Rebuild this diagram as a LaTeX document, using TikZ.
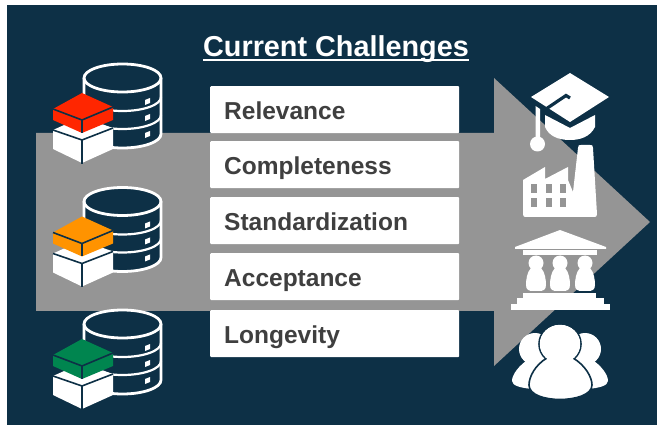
\documentclass[tikz,border=0pt]{standalone}
\usepackage{fontspec}
\setmainfont{Liberation Sans}
\definecolor{navy}{HTML}{0D3046}
\definecolor{arrowgray}{HTML}{959595}
\definecolor{labelgray}{HTML}{3F3F3F}
\definecolor{cubered}{HTML}{FF2600}
\definecolor{cubeorange}{HTML}{FF9300}
\definecolor{cubegreen}{HTML}{00854F}
\tikzset{
  x=1pt,y=-1pt,
  labelbox/.style={fill=white,rounded corners=1pt,inner sep=0pt,anchor=north west,
     text=labelgray,font=\bfseries\fontsize{24.5}{28}\selectfont,align=left,text width=249pt,
     text height=33pt,text depth=14pt,execute at begin node={\hspace*{14pt}}},
  iconfill/.style={fill=white,draw=none},
  hole/.style={fill=arrowgray,draw=none},
  dbline/.style={draw=white,line width=2.8pt},
  cubeline/.style={draw=navy,line width=1.6pt},
  pics/database/.style={code={
    \fill[navy] (84,78) -- (84,134) arc[start angle=180,end angle=0,x radius=38.5,y radius=14] -- (161,78) arc[start angle=0,end angle=-180,x radius=38.5,y radius=14];
    \draw[dbline] (84,78) -- (84,134) arc[start angle=180,end angle=0,x radius=38.5,y radius=14] -- (161,78);
    \draw[dbline] (122.5,78) ellipse[x radius=38.5,y radius=14];
    \draw[dbline,line width=2.2pt] (84,97) arc[start angle=180,end angle=0,x radius=38.5,y radius=14];
    \draw[dbline,line width=2.2pt] (84,115) arc[start angle=180,end angle=0,x radius=38.5,y radius=14];
    \foreach \yy in {101,117,134}
      \fill[white] (145,\yy-1) -- (150,\yy-3) -- (150,\yy+2) -- (145,\yy+4) -- cycle;
    \fill[white] (53,130) -- (82,117) -- (113,128) -- (113,149) -- (82,163) -- (53,149) -- cycle;
    \draw[cubeline] (53,130) -- (82,140) -- (113,128);
    \draw[cubeline] (82,140) -- (82,164);
    \fill[#1] (53,109) -- (82,93) -- (113,107) -- (113,120) -- (82,133) -- (53,120) -- cycle;
    \draw[cubeline] (53,109) -- (82,120) -- (113,107);
    \draw[cubeline] (82,120) -- (82,133);
  }}
}
\begin{document}
\begin{tikzpicture}
\useasboundingbox (0,0) rectangle (657,425);
\fill[white] (0,0) rectangle (657,425);
\fill[navy] (7,5) rectangle (657,425);
% big arrow
\fill[arrowgray] (36,133) -- (494,133) -- (494,78) -- (650,222) -- (494,366) -- (494,311) -- (36,311) -- cycle;
% title
\node[anchor=base,text=white,font=\bfseries\fontsize{28.8}{32}\selectfont,inner sep=0pt] (title) at (336,57) {Current Challenges};
\draw[white,line width=2pt] (203,60) -- (469,60);
% labels
\node[labelbox] (b1) at (210,86) {Relevance};
\node[labelbox] (b2) at (210,141) {Completeness};
\node[labelbox] (b3) at (210,197) {Standardization};
\node[labelbox] (b4) at (210,253) {Acceptance};
\node[labelbox] (b5) at (210,310) {Longevity};
% databases
\pic at (0,0) {database=cubered};
\pic at (0,123.5) {database=cubeorange};
\pic at (0,246) {database=cubegreen};
% graduation cap
\fill[iconfill] (545,115) -- (570,128) -- (595,115) -- (595,127)
   .. controls (590,137) and (580,140) .. (570,140) .. controls (558,140) and (549,136) .. (545,127) -- cycle;
\fill[iconfill] (570,73) -- (609,97) -- (570,122) -- (531,97) -- cycle;
\draw[navy,line width=3.2pt] (546,109) -- (566,95.5) -- (570,98);
\fill[iconfill] (535.5,106) -- (540,109) -- (540,140) -- (535.5,140) -- cycle;
\fill[iconfill] (537.5,144) circle[radius=7.5];
% factory
\fill[iconfill] (523,180) -- (545,167) -- (545,179) -- (568,167) -- (568,180) -- (573,192) -- (578,148)
   .. controls (578,145) and (579,145) .. (581,145) -- (590,145) .. controls (592,145) and (593,145) .. (593,148)
   -- (597,214) .. controls (597,216) and (596,217) .. (595,217) -- (525,217) .. controls (524,217) and (523,216) .. (523,214) -- cycle;
\foreach \xx in {531,546,560}
  \foreach \yy in {184,198}
    \fill[hole] (\xx,\yy) rectangle (\xx+6,\yy+9);
% bank
\fill[iconfill] (560,230) -- (606,247) -- (606,249) -- (515,249) -- (515,247) -- cycle;
\fill[iconfill] (523,250.5) rectangle (597,255);
\foreach \xx in {536,560,585}{
  \fill[iconfill] (\xx,263) circle[radius=7.5];
  \fill[iconfill] (\xx-5,268) .. controls (\xx-9,272) and (\xx-10,280) .. (\xx-10,285)
     .. controls (\xx-10,290) and (\xx-7,291) .. (\xx-3,291) -- (\xx+3,291)
     .. controls (\xx+7,291) and (\xx+10,290) .. (\xx+10,285)
     .. controls (\xx+10,280) and (\xx+9,272) .. (\xx+5,268) -- cycle;
}
\fill[iconfill] (523,293) rectangle (596,299);
\fill[iconfill] (517,298) rectangle (604,305);
\fill[iconfill] (511,304) rectangle (610,310);
% people
\foreach \sgn in {-1,1}{
  \fill[iconfill] (560+\sgn*25,349) circle[radius=16];
  \fill[iconfill] (560+\sgn*30,358) .. controls (560+\sgn*42,366) and (560+\sgn*48,375) .. (560+\sgn*48,381)
     .. controls (560+\sgn*48,386) and (560+\sgn*38,388) .. (560+\sgn*28,389) -- (560+\sgn*10,360) -- cycle;
}
\fill[iconfill,draw=navy,line width=1.6pt] (560,344) ellipse[x radius=21,y radius=20];
\fill[iconfill,draw=navy,line width=1.6pt] (547,358) .. controls (535,365) and (529,377) .. (529,385)
   .. controls (529,395) and (545,399.5) .. (560,399.5) .. controls (575,399.5) and (592,395) .. (592,385)
   .. controls (592,377) and (585,365) .. (573,358) -- cycle;
\fill[iconfill] (560,344) ellipse[x radius=20.2,y radius=19.2];
\fill[iconfill] (549,355) rectangle (571,365);
\end{tikzpicture}
\end{document}
